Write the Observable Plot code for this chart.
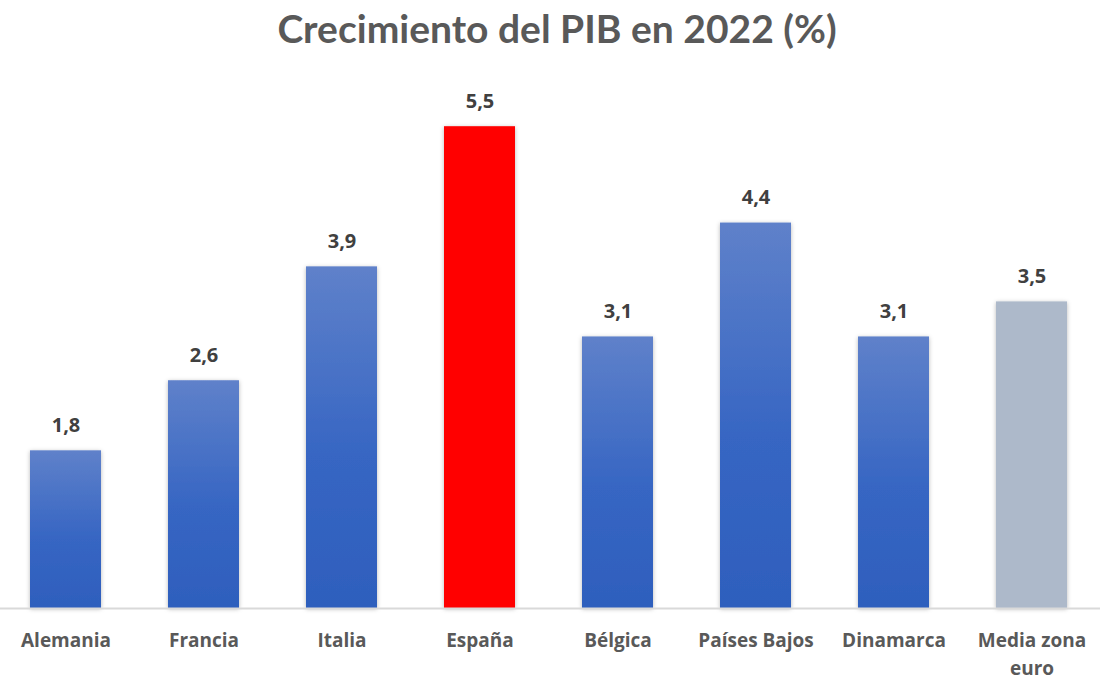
<!DOCTYPE html>
<html>
<head>
<meta charset="utf-8">
<script src="https://cdn.jsdelivr.net/npm/d3@7"></script>
<script src="https://cdn.jsdelivr.net/npm/@observablehq/plot@0.6"></script>
<style>
  html, body { margin: 0; padding: 0; background: #fff; }
  #title { height: 62px; line-height: 56px; text-align: center; font-family: Lato, "Open Sans", sans-serif; font-weight: 700; font-size: 39px; color: #595959; }
</style>
</head>
<body>
<div id="title">Crecimiento del PIB en 2022 (%)</div>
<div id="chart"></div>
<script>
const categories = ["Alemania", "Francia", "Italia", "España", "Bélgica", "Países Bajos", "Dinamarca", "Media zona euro"];
const values = [1.8, 2.6, 3.9, 5.5, 3.1, 4.4, 3.1, 3.5];
const kinds = ["país", "país", "país", "españa", "país", "país", "país", "media"];

const data = categories.map((c, i) => ({category: c, value: values[i], kind: kinds[i]}));
const fillFor = {"país": "url(#blueGrad)", "españa": "#ff0000", "media": "#adb9ca"};

const defs = () => {
  const ns = "http://www.w3.org/2000/svg";
  const d = document.createElementNS(ns, "defs");
  d.innerHTML = `
    <linearGradient id="blueGrad" x1="0" y1="0" x2="0" y2="1">
      <stop offset="0%" stop-color="#5f81ca"/>
      <stop offset="55%" stop-color="#3766c3"/>
      <stop offset="100%" stop-color="#2e5fbd"/>
    </linearGradient>
    <filter id="shadow" x="-20%" y="-5%" width="140%" height="110%">
      <feDropShadow dx="0" dy="1" stdDeviation="2" flood-color="#000" flood-opacity="0.28"/>
    </filter>`;
  return d;
};

const fmt = v => v.toFixed(1).replace(".", ",");

const chart = Plot.plot({
  width: 1114,
  height: 623,
  marginLeft: 0,
  marginRight: 14,
  marginTop: 20.4,
  marginBottom: 77,
  style: {fontFamily: "'Open Sans', Lato, sans-serif", background: "#fff", overflow: "visible"},
  x: {domain: categories, range: [-4, 1100], paddingInner: 0.486, paddingOuter: 0.243, label: null, axis: null},
  y: {domain: [0, 6], label: null, axis: null},
  marks: [
    defs,
    Plot.barY(data, {x: "category", y: "value", fill: d => fillFor[d.kind]}),
    Plot.ruleY([0], {stroke: "#d9d9d9", strokeWidth: 2}),
    Plot.text(data, {x: "category", y: "value", text: d => fmt(d.value), dy: -25, fill: "#404040", fontSize: 20, fontWeight: "bold"}),
    Plot.axisX({
      tickSize: 0,
      tickPadding: 19,
      fontSize: 19,
      fontWeight: "bold",
      fill: "#595959",
      lineHeight: 1.47,
      tickFormat: d => d === "Media zona euro" ? "Media zona\neuro" : d
    })
  ]
});
chart.querySelectorAll("g[aria-label='bar'] rect").forEach(r => r.setAttribute("filter", "url(#shadow)"));
document.getElementById("chart").appendChild(chart);
</script>
</body>
</html>
